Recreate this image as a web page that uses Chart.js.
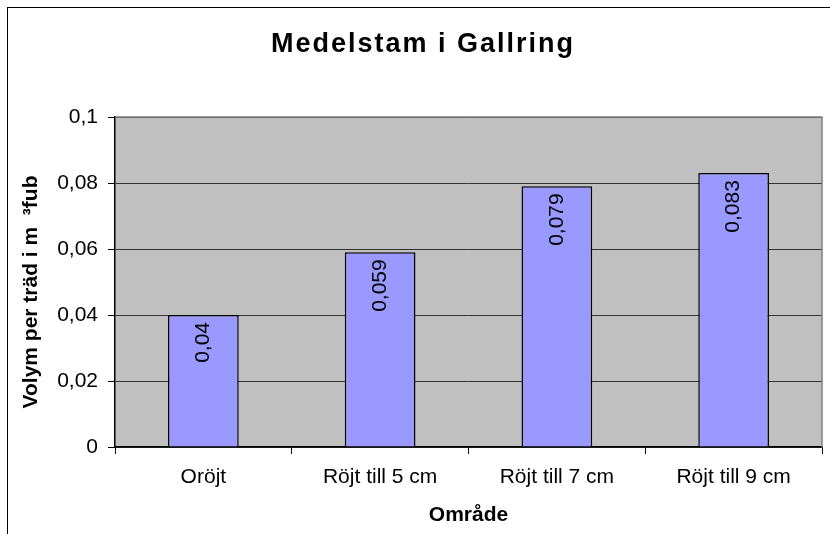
<!DOCTYPE html>
<html>
<head>
<meta charset="utf-8">
<script src="https://cdn.jsdelivr.net/npm/chart.js@4"></script>
<style>
  html, body { margin: 0; padding: 0; background: #fff; }
  #wrap { width: 830px; height: 534px; }
</style>
</head>
<body>
<div id="wrap"><canvas id="grafico" width="830" height="534"></canvas></div>
<script>
// datos del grafico
const kategorier = ['Oröjt', 'Röjt till 5 cm', 'Röjt till 7 cm', 'Röjt till 9 cm'];
const volym = [0.04, 0.059, 0.079, 0.083];
const yMin = 0;
const yMax = 0.1;
const yStep = 0.02;

const titel = 'Medelstam i Gallring';
const yTitel = 'Volym per träd i m  ³fub';
const xTitel = 'Område';

const FONT = '"Liberation Sans", Arial, sans-serif';

function komma(v) {
    return String(Math.round(v * 1000) / 1000).replace('.', ',');
}

// fondo, titulos, borde del area y etiquetas de datos
const fondoPlugin = {
    id: 'fondo',
    beforeDraw(chart) {
        const ctx = chart.ctx;
        const a = chart.chartArea;
        ctx.save();
        ctx.fillStyle = '#fff';
        ctx.fillRect(0, 0, chart.width, chart.height);
        ctx.fillStyle = '#C0C0C0';
        ctx.fillRect(a.left, a.top, a.right - a.left, a.bottom - a.top);
        ctx.restore();
    },
    afterDraw(chart) {
        const ctx = chart.ctx;
        const a = chart.chartArea;
        ctx.save();
        ctx.strokeStyle = '#808080';
        ctx.lineWidth = 1.5;
        ctx.beginPath();
        ctx.moveTo(a.left, a.top);
        ctx.lineTo(a.right, a.top);
        ctx.lineTo(a.right, a.bottom);
        ctx.stroke();
        // marco exterior
        ctx.strokeStyle = '#000';
        ctx.lineWidth = 1;
        ctx.strokeRect(7.5, 7.5, 900, 900);
        // titulo del eje y
        ctx.fillStyle = '#000';
        ctx.textAlign = 'center';
        ctx.textBaseline = 'middle';
        ctx.save();
        ctx.translate(31, 292);
        ctx.rotate(-Math.PI / 2);
        ctx.font = 'bold 21px ' + FONT;
        ctx.fillText(yTitel, 0, 0);
        ctx.restore();
        // titulo con letras espaciadas como en Excel
        ctx.font = 'bold 27px ' + FONT;
        if ('letterSpacing' in ctx) ctx.letterSpacing = '2px';
        ctx.fillText(titel, 423, 45);
        ctx.restore();
    },
    afterDatasetsDraw(chart) {
        const ctx = chart.ctx;
        const meta = chart.getDatasetMeta(0);
        ctx.save();
        ctx.fillStyle = '#000';
        ctx.font = '21px ' + FONT;
        ctx.textAlign = 'right';
        ctx.textBaseline = 'middle';
        meta.data.forEach((bar, i) => {
            ctx.save();
            ctx.translate(bar.x, bar.y + 7);
            ctx.rotate(-Math.PI / 2);
            ctx.fillText(komma(volym[i]), 0, 0);
            ctx.restore();
        });
        ctx.restore();
    }
};

Chart.defaults.color = '#000';
Chart.defaults.font.family = FONT;

new Chart(document.getElementById('grafico'), {
    type: 'bar',
    data: {
        labels: kategorier,
        datasets: [{
            label: yTitel,
            data: volym,
            backgroundColor: '#9999FF',
            borderColor: '#000',
            borderWidth: 1.5,
            barPercentage: 0.4,
            categoryPercentage: 1
        }]
    },
    options: {
        responsive: false,
        animation: false,
        layout: { padding: { left: 0, right: 8, top: 117, bottom: 0 } },
        plugins: {
            legend: { display: false },
            tooltip: { enabled: false },
            title: { display: false }
        },
        scales: {
            x: {
                grid: {
                    display: true,
                    drawOnChartArea: false,
                    drawTicks: true,
                    tickLength: 7,
                    tickColor: '#000',
                    offset: true
                },
                border: { display: true, color: '#000', width: 1.5 },
                ticks: {
                    font: { size: 21, family: FONT },
                    padding: 11,
                    maxRotation: 0,
                    autoSkip: false
                },
                title: {
                    display: true,
                    text: xTitel,
                    font: { size: 21, weight: 'bold', family: FONT },
                    padding: { top: 12, bottom: 6 }
                },
                afterFit(scale) { scale.height = 87; }
            },
            y: {
                min: yMin,
                max: yMax,
                grid: {
                    color: '#333',
                    lineWidth: 1,
                    tickLength: 7,
                    tickColor: '#000'
                },
                border: { display: true, color: '#000', width: 1.5 },
                ticks: {
                    stepSize: yStep,
                    font: { size: 21, family: FONT },
                    padding: 10,
                    callback: (v) => komma(v)
                },
                title: { display: false },
                afterFit(scale) { scale.width = 115; }
            }
        }
    },
    plugins: [fondoPlugin]
});
</script>
</body>
</html>
